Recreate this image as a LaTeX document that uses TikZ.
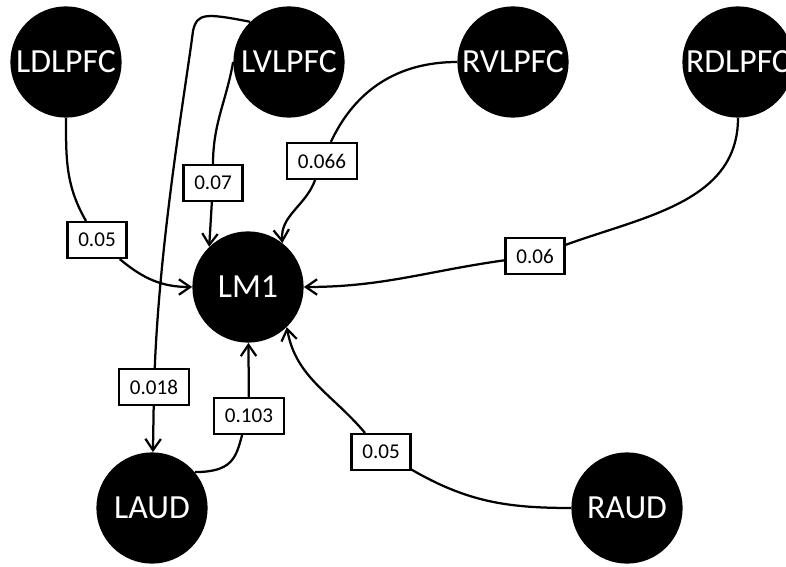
\documentclass[tikz,border=0pt]{standalone}
\usepackage{fontspec}
\setmainfont{Carlito}
\usepackage{tikz}
\usetikzlibrary{arrows.meta,positioning}

\begin{document}
\begin{tikzpicture}[x=0.025cm, y=0.025cm,
    region/.style={circle, fill=black, text=white, inner sep=0pt, minimum size=2.78cm, font=\fontsize{24}{26}\selectfont},
    weight/.style={draw=black, fill=white, line width=1.5pt, inner xsep=0.27cm, minimum height=0.9cm, font=\fontsize{15}{17}\selectfont},
    link/.style={line width=1.6pt},
    >={Straight Barb[length=8pt,width=11pt]}]
    \useasboundingbox (0,0) rectangle (786,566);

    % Regions
    \node[region] (LDLPFC) at (66,504) {LDLPFC};
    \node[region] (LVLPFC) at (289,504) {LVLPFC};
    \node[region] (RVLPFC) at (513,504) {RVLPFC};
    \node[region] (RDLPFC) at (738,504) {RDLPFC};
    \node[region] (LM1) at (248,279) {LM1};
    \node[region] (LAUD) at (152,58) {LAUD};
    \node[region] (RAUD) at (627,58) {RAUD};

    % Weights
    \node[weight] (w1) at (97,326) {0.05};
    \node[weight] (w2) at (213,383) {0.07};
    \node[weight] (w3) at (322,405) {0.066};
    \node[weight] (w4) at (535,310) {0.06};
    \node[weight] (w5) at (154,179) {0.018};
    \node[weight] (w6) at (249,150) {0.103};
    \node[weight] (w7) at (381,114) {0.05};

    % Connections into LM1
    \draw[link] (LDLPFC) to[out=-90,in=120] (w1);
    \draw[link,->] (w1) to[out=-40,in=180] (LM1);
    \draw[link] (LVLPFC.west) to[out=-100,in=90] (w2);
    \draw[link,->] (w2) -- (LM1.134);
    \draw[link] (RVLPFC) to[out=180,in=65] (w3);
    \draw[link,->] (w3) to[out=-110,in=95] (LM1.52);
    \draw[link] (RDLPFC) to[out=-90,in=20] (w4);
    \draw[link,->] (w4) to[out=188,in=0] (LM1);
    \draw[link] (LAUD.40) .. controls (232,94) and (236,108) .. (w6.-110);
    \draw[link,->] (w6) -- (LM1);
    \draw[link] (RAUD) to[out=180,in=-30] (w7);
    \draw[link,->] (w7) to[out=130,in=-80] (LM1.-46);

    % LVLPFC to LAUD
    \draw[link] (LVLPFC.134) .. controls (205,553) and (197,553) .. (193,535)
        .. controls (186,480) and (160,330) .. (w5);
    \draw[link,->] (w5) -- (LAUD);
\end{tikzpicture}
\end{document}
